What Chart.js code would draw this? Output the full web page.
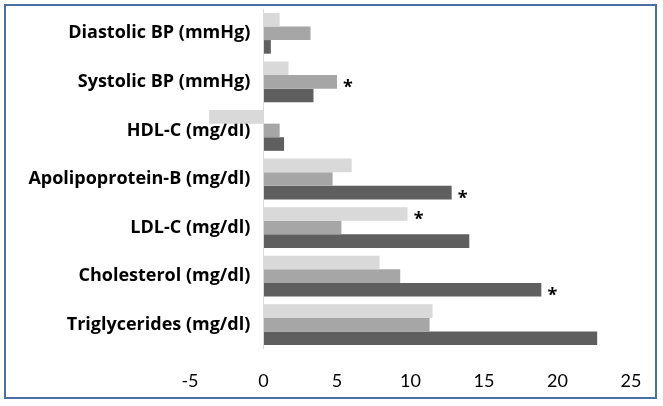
<!DOCTYPE html>
<html>
<head>
<meta charset="utf-8">
<script src="https://cdn.jsdelivr.net/npm/chart.js@4/dist/chart.umd.min.js"></script>
<style>
    body { margin: 0; background: #fff; }
    #wrap { position: relative; width: 663px; height: 406px; }
    #frame {
        position: absolute; left: 4px; top: 4px; width: 649px; height: 391px;
        border: 2.5px solid #4a6fa5; pointer-events: none;
    }
</style>
</head>
<body>
<div id="wrap">
    <canvas id="myChart" width="663" height="406"></canvas>
    <div id="frame"></div>
</div>
<script>
    const categories = ['Diastolic BP (mmHg)', 'Systolic BP (mmHg)', 'HDL-C (mg/dl)',
        'Apolipoprotein-B (mg/dl)', 'LDL-C (mg/dl)', 'Cholesterol (mg/dl)', 'Triglycerides (mg/dl)'];
    const seriesLight = [1.1, 1.7, -3.7, 6.0, 9.8, 7.9, 11.5];
    const seriesMedium = [3.2, 5.0, 1.1, 4.7, 5.3, 9.3, 11.3];
    const seriesDark = [0.5, 3.4, 1.4, 12.8, 14.0, 18.9, 22.7];
    const xTicks = [-5, 0, 5, 10, 15, 20, 25];
    // asterisks: [category index, dataset index]
    const stars = [[1, 1], [3, 2], [4, 0], [5, 2]];

    const starPlugin = {
        id: 'stars',
        afterDatasetsDraw(chart) {
            const ctx = chart.ctx;
            ctx.save();
            ctx.fillStyle = '#000';
            ctx.font = 'bold 18px "Open Sans"';
            ctx.textAlign = 'center';
            ctx.textBaseline = 'middle';
            stars.forEach(([cat, ds]) => {
                const bar = chart.getDatasetMeta(ds).data[cat];
                ctx.fillText('*', bar.x + 11, bar.y + 6);
            });
            ctx.restore();
        }
    };

    // drop the label overhang padding so layout.padding sets the plot area
    const noPad = (axis) => {
        axis.paddingLeft = 0; axis.paddingRight = 0;
        axis.paddingTop = 0; axis.paddingBottom = 0;
    };

    const data = {
        labels: categories,
        datasets: [
            { data: seriesLight, backgroundColor: '#d9d9d9' },
            { data: seriesMedium, backgroundColor: '#a6a6a6' },
            { data: seriesDark, backgroundColor: '#5f5f5f' }
        ]
    };

    const config = {
        type: 'bar',
        data: data,
        options: {
            indexAxis: 'y',
            responsive: false,
            animation: false,
            categoryPercentage: 0.84,
            barPercentage: 1.0,
            layout: { padding: { left: 190, right: 32, top: 9, bottom: 14 } },
            plugins: { legend: { display: false }, tooltip: { enabled: false } },
            scales: {
                x: {
                    min: -5,
                    max: 25,
                    afterBuildTicks: (axis) => { axis.ticks = xTicks.map(v => ({ value: v })); },
                    afterFit: (axis) => { noPad(axis); axis.height = 43; },
                    grid: {
                        display: true,
                        drawTicks: false,
                        color: (c) => (c.tick && c.tick.value === 0 ? '#d9d9d9' : 'rgba(0,0,0,0)')
                    },
                    border: { display: false },
                    ticks: { color: '#000', padding: 21, font: { family: 'Lato', size: 18 } }
                },
                y: {
                    position: { x: -0.9 },
                    afterFit: noPad,
                    grid: { display: false, drawTicks: false },
                    border: { display: false },
                    ticks: { color: '#000', font: { family: '"Open Sans"', size: 18, weight: 'bold' } }
                }
            }
        },
        plugins: [starPlugin]
    };

    const myChart = new Chart(document.getElementById('myChart'), config);
</script>
</body>
</html>
